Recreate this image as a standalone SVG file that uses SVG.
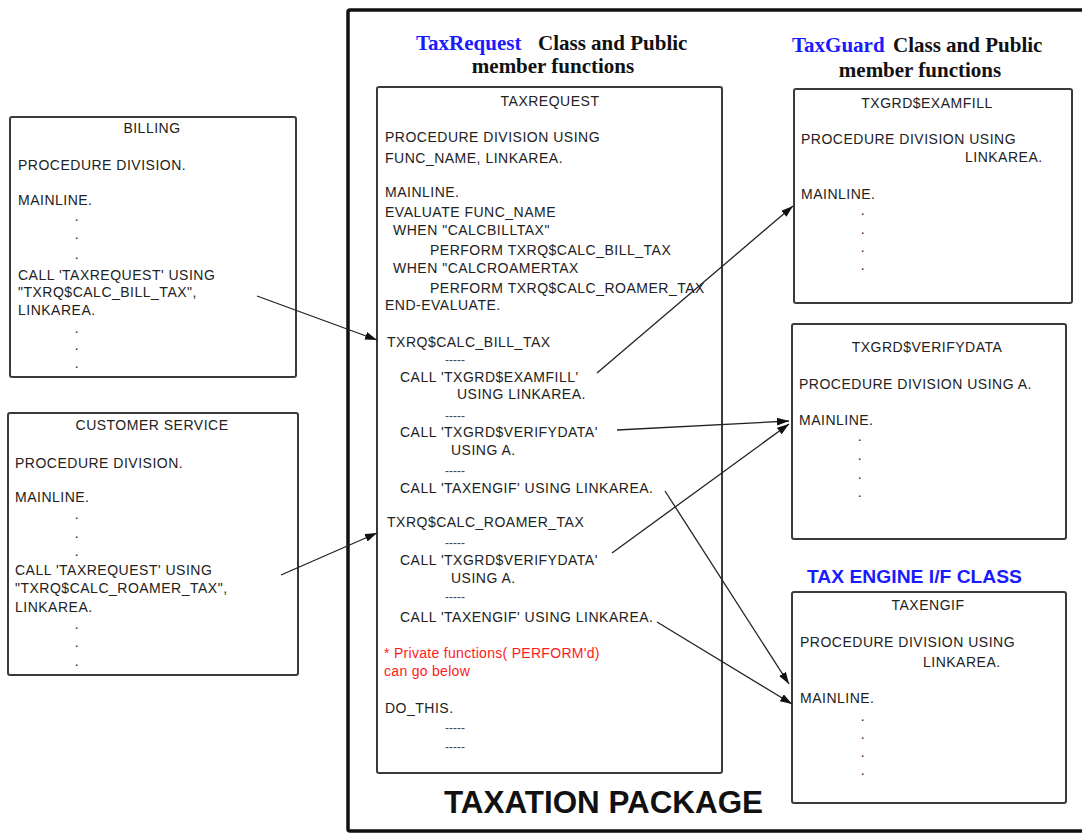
<svg xmlns="http://www.w3.org/2000/svg" width="1082" height="834" viewBox="0 0 1082 834">
  <style>
    .box { fill: #ffffff; stroke: #3a3a3a; stroke-width: 2; }
    .pkg { fill: none; stroke: #111111; stroke-width: 3.5; }
    .code { font-family: "Liberation Sans", Arial, sans-serif; font-size: 14px; letter-spacing: 0.5px; fill: #222222; }
    .mid { text-anchor: middle; }
    .dash { font-family: "Liberation Sans", Arial, sans-serif; font-size: 12px; fill: #444444; }
    .note { font-family: "Liberation Sans", Arial, sans-serif; font-size: 14px; letter-spacing: 0.3px; fill: #ff1a1a; }
    .head { font-family: "Liberation Serif", "Times New Roman", serif; font-size: 21px; font-weight: bold; fill: #111111; }
    .cls { fill: #1a1aff; }
    .title { font-family: "Liberation Sans", Arial, sans-serif; font-weight: bold; }
    .conn { fill: none; stroke: #222222; stroke-width: 1.3; marker-end: url(#arrow); }
  </style>
  <defs>
    <marker id="arrow" viewBox="0 0 12 8" refX="12" refY="4" markerWidth="12" markerHeight="8" markerUnits="userSpaceOnUse" orient="auto">
      <path d="M0,0 L12,4 L0,8 Z" fill="#111111"/>
    </marker>
  </defs>

  <rect width="1082" height="834" fill="#ffffff"/>

  <!-- package frame -->
  <g id="taxation-package">
    <rect class="pkg" x="348" y="10" width="760" height="821" rx="2"/>
    <text class="title" x="444" y="813" font-size="31" fill="#111111" textLength="319" lengthAdjust="spacingAndGlyphs">TAXATION PACKAGE</text>
  </g>

  <!-- class headings -->
  <g id="heading-taxrequest">
    <text class="head" x="416" y="50"><tspan class="cls">TaxRequest</tspan><tspan x="538">Class and Public</tspan></text>
    <text class="head mid" x="553" y="73">member functions</text>
  </g>
  <g id="heading-taxguard">
    <text class="head" x="792" y="52"><tspan class="cls">TaxGuard</tspan><tspan x="893">Class and Public</tspan></text>
    <text class="head mid" x="920" y="77">member functions</text>
  </g>
  <g id="heading-taxengine">
    <text class="title" x="807" y="583" font-size="19" fill="#1a1aff" textLength="215" lengthAdjust="spacingAndGlyphs">TAX ENGINE I/F CLASS</text>
  </g>

  <!-- caller: billing -->
  <g id="billing">
    <rect class="box" x="10" y="117" width="286" height="260" rx="2"/>
    <text class="code mid" x="152" y="133">BILLING</text>
    <text class="code" x="18" y="170">PROCEDURE DIVISION.</text>
    <text class="code" x="18" y="205">MAINLINE.</text>
    <text class="code mid" x="77" y="221">.</text>
    <text class="code mid" x="77" y="239">.</text>
    <text class="code mid" x="77" y="259">.</text>
    <text class="code" x="18" y="280">CALL 'TAXREQUEST' USING</text>
    <text class="code" x="18" y="297">"TXRQ$CALC_BILL_TAX",</text>
    <text class="code" x="18" y="315">LINKAREA.</text>
    <text class="code mid" x="77" y="333">.</text>
    <text class="code mid" x="77" y="350">.</text>
    <text class="code mid" x="77" y="368">.</text>
  </g>

  <!-- caller: customer service -->
  <g id="customer-service">
    <rect class="box" x="8" y="413" width="290" height="262" rx="2"/>
    <text class="code mid" x="152" y="430">CUSTOMER SERVICE</text>
    <text class="code" x="15" y="468">PROCEDURE DIVISION.</text>
    <text class="code" x="15" y="502">MAINLINE.</text>
    <text class="code mid" x="77" y="519">.</text>
    <text class="code mid" x="77" y="538">.</text>
    <text class="code mid" x="77" y="556">.</text>
    <text class="code" x="15" y="575">CALL 'TAXREQUEST' USING</text>
    <text class="code" x="15" y="593">"TXRQ$CALC_ROAMER_TAX",</text>
    <text class="code" x="15" y="612">LINKAREA.</text>
    <text class="code mid" x="77" y="629">.</text>
    <text class="code mid" x="77" y="647">.</text>
    <text class="code mid" x="77" y="666">.</text>
  </g>

  <!-- TaxRequest program -->
  <g id="taxrequest">
    <rect class="box" x="377" y="87" width="345" height="686" rx="2"/>
    <text class="code mid" x="550" y="106">TAXREQUEST</text>
    <text class="code" x="385" y="142">PROCEDURE DIVISION USING</text>
    <text class="code" x="385" y="163">FUNC_NAME,  LINKAREA.</text>
    <text class="code" x="385" y="197">MAINLINE.</text>
    <text class="code" x="385" y="217">EVALUATE FUNC_NAME</text>
    <text class="code" x="393" y="235">WHEN "CALCBILLTAX"</text>
    <text class="code" x="430" y="255">PERFORM TXRQ$CALC_BILL_TAX</text>
    <text class="code" x="393" y="273">WHEN "CALCROAMERTAX</text>
    <text class="code" x="430" y="293">PERFORM TXRQ$CALC_ROAMER_TAX</text>
    <text class="code" x="385" y="310">END-EVALUATE.</text>
    <text class="code" x="387" y="347">TXRQ$CALC_BILL_TAX</text>
    <text class="dash" x="445" y="364">-----</text>
    <text class="code" x="400" y="382">CALL 'TXGRD$EXAMFILL'</text>
    <text class="code" x="457" y="399">USING LINKAREA.</text>
    <text class="dash" x="445" y="420">-----</text>
    <text class="code" x="400" y="437">CALL 'TXGRD$VERIFYDATA'</text>
    <text class="code" x="451" y="455">USING A.</text>
    <text class="dash" x="445" y="475">-----</text>
    <text class="code" x="400" y="493">CALL 'TAXENGIF' USING LINKAREA.</text>
    <text class="code" x="387" y="527">TXRQ$CALC_ROAMER_TAX</text>
    <text class="dash" x="445" y="547">-----</text>
    <text class="code" x="400" y="565">CALL 'TXGRD$VERIFYDATA'</text>
    <text class="code" x="451" y="583">USING A.</text>
    <text class="dash" x="445" y="601">-----</text>
    <text class="code" x="400" y="622">CALL 'TAXENGIF' USING LINKAREA.</text>
    <text class="note" x="384" y="658">* Private functions( PERFORM'd)</text>
    <text class="note" x="384" y="676">can go below</text>
    <text class="code" x="385" y="713">DO_THIS.</text>
    <text class="dash" x="445" y="732">-----</text>
    <text class="dash" x="445" y="751">-----</text>
  </g>

  <!-- TaxGuard: exam fill -->
  <g id="txgrd-examfill">
    <rect class="box" x="794" y="89" width="278" height="214" rx="2"/>
    <text class="code mid" x="927" y="108">TXGRD$EXAMFILL</text>
    <text class="code" x="801" y="144">PROCEDURE DIVISION USING</text>
    <text class="code" x="965" y="162">LINKAREA.</text>
    <text class="code" x="801" y="199">MAINLINE.</text>
    <text class="code mid" x="863" y="215">.</text>
    <text class="code mid" x="863" y="234">.</text>
    <text class="code mid" x="863" y="252">.</text>
    <text class="code mid" x="863" y="270">.</text>
  </g>

  <!-- TaxGuard: verify data -->
  <g id="txgrd-verifydata">
    <rect class="box" x="792" y="324" width="274" height="215" rx="2"/>
    <text class="code mid" x="927" y="352">TXGRD$VERIFYDATA</text>
    <text class="code" x="799" y="389">PROCEDURE DIVISION USING A.</text>
    <text class="code" x="799" y="425">MAINLINE.</text>
    <text class="code mid" x="860" y="441">.</text>
    <text class="code mid" x="860" y="460">.</text>
    <text class="code mid" x="860" y="479">.</text>
    <text class="code mid" x="860" y="497">.</text>
  </g>

  <!-- tax engine interface -->
  <g id="taxengif">
    <rect class="box" x="792" y="592" width="274" height="211" rx="2"/>
    <text class="code mid" x="928" y="610">TAXENGIF</text>
    <text class="code" x="800" y="647">PROCEDURE DIVISION USING</text>
    <text class="code" x="923" y="667">LINKAREA.</text>
    <text class="code" x="800" y="703">MAINLINE.</text>
    <text class="code mid" x="863" y="721">.</text>
    <text class="code mid" x="863" y="739">.</text>
    <text class="code mid" x="863" y="757">.</text>
    <text class="code mid" x="863" y="775">.</text>
  </g>

  <!-- calls between programs -->
  <g id="connectors">
    <line class="conn" x1="257" y1="296" x2="377" y2="340"/>
    <line class="conn" x1="281" y1="575" x2="377" y2="533"/>
    <line class="conn" x1="597" y1="373" x2="793" y2="206"/>
    <line class="conn" x1="617" y1="430" x2="789" y2="421"/>
    <line class="conn" x1="612" y1="553" x2="789" y2="424"/>
    <line class="conn" x1="665" y1="491" x2="789" y2="684"/>
    <line class="conn" x1="657" y1="622" x2="792" y2="704"/>
  </g>
</svg>
